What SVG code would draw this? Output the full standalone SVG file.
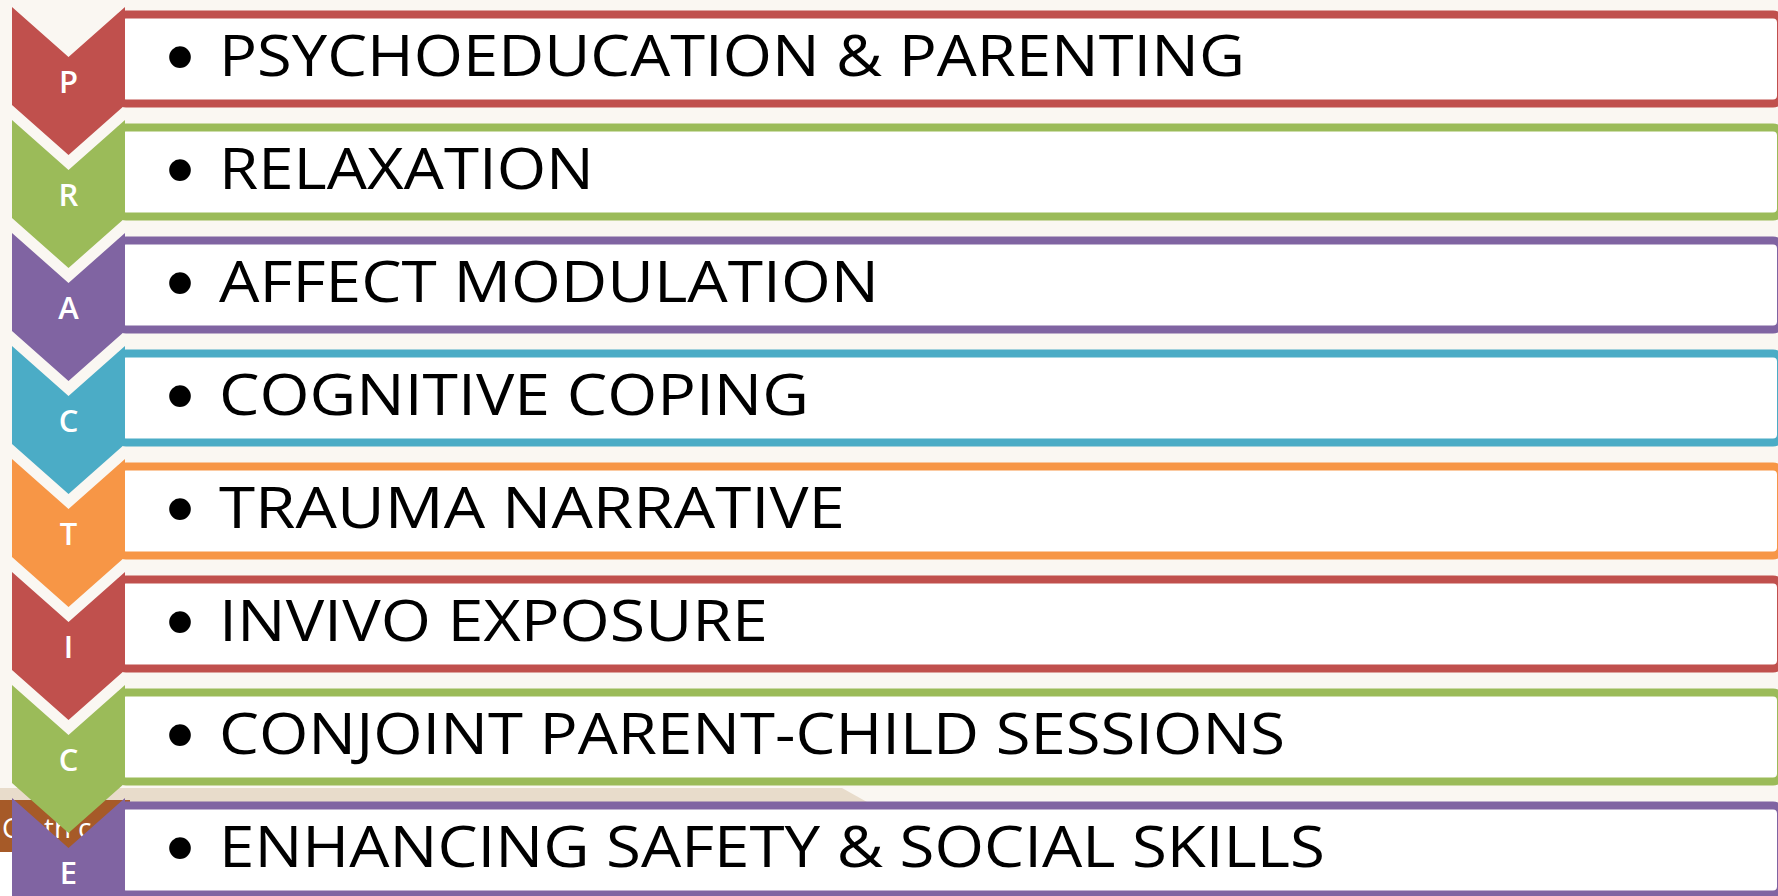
<svg xmlns="http://www.w3.org/2000/svg" width="1778" height="896" viewBox="0 0 1778 896">
  <style>
    .box { fill: #FFFFFF; stroke-width: 8; }
    .chev { stroke: none; }
    .letter { font-family: "Open Sans", "Liberation Sans", sans-serif; font-weight: 600; font-size: 31px; fill: #FFFFFF; text-anchor: middle; }
    .item { font-family: "Open Sans", "Liberation Sans", sans-serif; font-size: 57px; fill: #000000; }
    .bullet { font-family: "Liberation Sans", sans-serif; font-size: 80px; fill: #000000; text-anchor: middle; }
    .red { fill: #C0504D; } .redS { stroke: #C0504D; }
    .green { fill: #9BBB59; } .greenS { stroke: #9BBB59; }
    .purple { fill: #8064A2; } .purpleS { stroke: #8064A2; }
    .cyan { fill: #4BACC6; } .cyanS { stroke: #4BACC6; }
    .orange { fill: #F79646; } .orangeS { stroke: #F79646; }
  </style>
  <defs>
    <!-- chevron pointing down, top-left corner at origin -->
    <polygon id="chevron" points="12,7 68.5,57 125,7 125,105 68.5,155 12,105"/>
  </defs>

  <!-- page background -->
  <rect x="0" y="0" width="1778" height="896" fill="#FAF7F2"/>

  <!-- slide footer fragments behind the last row -->
  <g id="footer">
    <polygon points="0,788 842,788 867,802 0,802" fill="#E8DCCB"/>
    <rect x="0" y="800" width="130" height="52" fill="#A65A28"/>
    <rect x="0" y="852" width="14" height="44" fill="#FFFFFF"/>
    <text x="2 44 54 78" y="838" font-family="Open Sans, Liberation Sans, sans-serif" font-size="28" fill="#FFFFFF">Cthc</text>
  </g>

  <g id="row-p">
    <rect class="box redS" x="118" y="14.5" width="1663" height="89" rx="8"/>
    <use href="#chevron" class="red"/>
    <text class="letter" x="68.5" y="93">P</text>
    <text class="bullet" x="180" y="84">•</text>
    <text class="item" x="219" y="76" textLength="1026" lengthAdjust="spacingAndGlyphs">PSYCHOEDUCATION &amp; PARENTING</text>
  </g>

  <g id="row-r" transform="translate(0,113)">
    <rect class="box greenS" x="118" y="14.5" width="1663" height="89" rx="8"/>
    <use href="#chevron" class="green"/>
    <text class="letter" x="68.5" y="93">R</text>
    <text class="bullet" x="180" y="84">•</text>
    <text class="item" x="219" y="76" textLength="375" lengthAdjust="spacingAndGlyphs">RELAXATION</text>
  </g>

  <g id="row-a" transform="translate(0,226)">
    <rect class="box purpleS" x="118" y="14.5" width="1663" height="89" rx="8"/>
    <use href="#chevron" class="purple"/>
    <text class="letter" x="68.5" y="93">A</text>
    <text class="bullet" x="180" y="84">•</text>
    <text class="item" x="219" y="76" textLength="660" lengthAdjust="spacingAndGlyphs">AFFECT MODULATION</text>
  </g>

  <g id="row-c1" transform="translate(0,339)">
    <rect class="box cyanS" x="118" y="14.5" width="1663" height="89" rx="8"/>
    <use href="#chevron" class="cyan"/>
    <text class="letter" x="68.5" y="93">C</text>
    <text class="bullet" x="180" y="84">•</text>
    <text class="item" x="219" y="76" textLength="590" lengthAdjust="spacingAndGlyphs">COGNITIVE COPING</text>
  </g>

  <g id="row-t" transform="translate(0,452)">
    <rect class="box orangeS" x="118" y="14.5" width="1663" height="89" rx="8"/>
    <use href="#chevron" class="orange"/>
    <text class="letter" x="68.5" y="93">T</text>
    <text class="bullet" x="180" y="84">•</text>
    <text class="item" x="219" y="76" textLength="626" lengthAdjust="spacingAndGlyphs">TRAUMA NARRATIVE</text>
  </g>

  <g id="row-i" transform="translate(0,565)">
    <rect class="box redS" x="118" y="14.5" width="1663" height="89" rx="8"/>
    <use href="#chevron" class="red"/>
    <text class="letter" x="68.5" y="93">I</text>
    <text class="bullet" x="180" y="84">•</text>
    <text class="item" x="219" y="76" textLength="549" lengthAdjust="spacingAndGlyphs">INVIVO EXPOSURE</text>
  </g>

  <g id="row-c2" transform="translate(0,678)">
    <rect class="box greenS" x="118" y="14.5" width="1663" height="89" rx="8"/>
    <use href="#chevron" class="green"/>
    <text class="letter" x="68.5" y="93">C</text>
    <text class="bullet" x="180" y="84">•</text>
    <text class="item" x="219" y="76" textLength="1066" lengthAdjust="spacingAndGlyphs">CONJOINT PARENT-CHILD SESSIONS</text>
  </g>

  <g id="row-e" transform="translate(0,791)">
    <rect class="box purpleS" x="118" y="14.5" width="1663" height="89" rx="8"/>
    <use href="#chevron" class="purple"/>
    <text class="letter" x="68.5" y="93">E</text>
    <text class="bullet" x="180" y="84">•</text>
    <text class="item" x="219" y="76" textLength="1106" lengthAdjust="spacingAndGlyphs">ENHANCING SAFETY &amp; SOCIAL SKILLS</text>
  </g>
</svg>
